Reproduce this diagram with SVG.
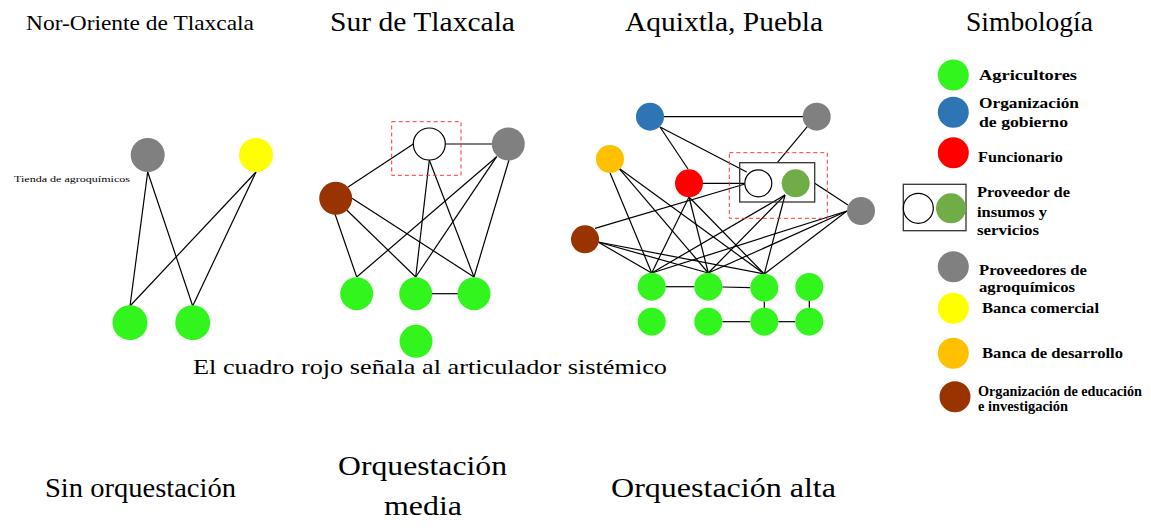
<svg xmlns="http://www.w3.org/2000/svg" width="1151" height="529" viewBox="0 0 1151 529">
<style>
.t{font-family:"Liberation Serif","DejaVu Serif",serif;fill:#000}
.lg{font-family:"Liberation Serif","DejaVu Serif",serif;font-weight:bold;fill:#000;font-size:15px}
.e{stroke:#000;stroke-width:1.2;fill:none}
.g{fill:#33F51E}
.gr{fill:#808080}
.ye{fill:#FFFF00}
.or{fill:#FFC000}
.br{fill:#993300}
.bl{fill:#2E75B6}
.rd{fill:#FF0000}
.ol{fill:#70AD47}
.wh{fill:#fff;stroke:#000;stroke-width:1.2}
.dash{fill:none;stroke:#FF3333;stroke-width:1;stroke-dasharray:4 3}
.box{fill:none;stroke:#333;stroke-width:1.3}
</style>
<rect width="1151" height="529" fill="#fff"/>

<g id="titles">
<text class="t" x="26" y="30" font-size="21" textLength="228" lengthAdjust="spacingAndGlyphs">Nor-Oriente de Tlaxcala</text>
<text class="t" x="330" y="31" font-size="27" textLength="185" lengthAdjust="spacingAndGlyphs">Sur de Tlaxcala</text>
<text class="t" x="625" y="31" font-size="27" textLength="198" lengthAdjust="spacingAndGlyphs">Aquixtla, Puebla</text>
<text class="t" x="966" y="31" font-size="27" textLength="127" lengthAdjust="spacingAndGlyphs">Simbología</text>
<text class="t" x="193" y="374" font-size="22" textLength="474" lengthAdjust="spacingAndGlyphs">El cuadro rojo señala al articulador sistémico</text>
<text class="t" x="45" y="497" font-size="27" textLength="191" lengthAdjust="spacingAndGlyphs">Sin orquestación</text>
<text class="t" x="338" y="475" font-size="27" textLength="169" lengthAdjust="spacingAndGlyphs">Orquestación</text>
<text class="t" x="384" y="515" font-size="27" textLength="78" lengthAdjust="spacingAndGlyphs">media</text>
<text class="t" x="611" y="497" font-size="27" textLength="225" lengthAdjust="spacingAndGlyphs">Orquestación alta</text>
<text class="t" x="14" y="182" font-size="9" fill="#333" textLength="116" lengthAdjust="spacingAndGlyphs">Tienda de agroquímicos</text>
</g>

<g id="connectors">
<!-- Nor-Oriente -->
<line class="e" x1="147.7" y1="172" x2="130" y2="306"/>
<line class="e" x1="147.7" y1="172" x2="192.7" y2="306"/>
<line class="e" x1="256" y1="172" x2="130" y2="306"/>
<line class="e" x1="256" y1="172" x2="192.7" y2="306"/>
<!-- Sur -->
<line class="e" x1="445" y1="144" x2="492" y2="144" stroke="#555"/>
<line class="e" x1="413.7" y1="143.7" x2="347.7" y2="187.3"/>
<line class="e" x1="429.3" y1="160" x2="415.7" y2="277"/>
<line class="e" x1="429.3" y1="160" x2="474" y2="277"/>
<line class="e" x1="496.7" y1="156.7" x2="356.7" y2="277"/>
<line class="e" x1="496.7" y1="156.7" x2="415.7" y2="277"/>
<line class="e" x1="509" y1="160" x2="474" y2="277"/>
<line class="e" x1="335" y1="214" x2="356.7" y2="277"/>
<line class="e" x1="346.7" y1="210" x2="415.7" y2="277"/>
<line class="e" x1="352" y1="198.3" x2="474" y2="277"/>
<line class="e" x1="432" y1="293.7" x2="458" y2="293.7" stroke="#444"/>
<!-- Aquixtla -->
<line class="e" x1="664" y1="116.7" x2="803" y2="116.7"/>
<line class="e" x1="660" y1="127" x2="688" y2="169"/>
<line class="e" x1="660" y1="127" x2="746.7" y2="172"/>
<line class="e" x1="807.3" y1="126.7" x2="777.3" y2="162.7"/>
<line class="e" x1="703" y1="183.3" x2="744.3" y2="183.3" stroke="#444"/>
<line class="e" x1="595" y1="228.3" x2="745" y2="184"/>
<line class="e" x1="814.7" y1="183.3" x2="848" y2="205"/>
<line class="e" x1="610" y1="172.7" x2="651.7" y2="273"/>
<line class="e" x1="619" y1="168.3" x2="708.3" y2="273"/>
<line class="e" x1="619" y1="168.3" x2="764.3" y2="274"/>
<line class="e" x1="689" y1="197" x2="651.7" y2="273"/>
<line class="e" x1="689" y1="197" x2="708.3" y2="273"/>
<line class="e" x1="689" y1="197" x2="764.3" y2="274"/>
<line class="e" x1="598" y1="242" x2="651.7" y2="273"/>
<line class="e" x1="598" y1="242" x2="708.3" y2="273"/>
<line class="e" x1="598" y1="242" x2="764.3" y2="274"/>
<line class="e" x1="785" y1="195" x2="651.7" y2="273"/>
<line class="e" x1="785" y1="195" x2="708.3" y2="273"/>
<line class="e" x1="785" y1="195" x2="764.3" y2="274"/>
<line class="e" x1="847" y1="211" x2="651.7" y2="273"/>
<line class="e" x1="847" y1="211" x2="708.3" y2="273"/>
<line class="e" x1="847" y1="211" x2="764.3" y2="274"/>
<line class="e" x1="665.7" y1="286.7" x2="694.3" y2="286.7"/>
<line class="e" x1="722.3" y1="287" x2="750.3" y2="287.7"/>
<line class="e" x1="764.3" y1="301.7" x2="764.3" y2="307.7"/>
<line class="e" x1="809.3" y1="301" x2="809.3" y2="307.7"/>
<line class="e" x1="722.3" y1="321.7" x2="750.3" y2="321.7"/>
<line class="e" x1="778.3" y1="321.7" x2="795.3" y2="321.7"/>
</g>

<g id="nor-oriente">
<g id="no-tienda"><circle class="gr" cx="147.7" cy="155" r="17"/></g>
<g id="no-banca"><circle class="ye" cx="256" cy="155" r="17"/></g>
<g id="no-agr1"><circle class="g" cx="130" cy="322.7" r="17.5"/></g>
<g id="no-agr2"><circle class="g" cx="192.7" cy="322.7" r="17.5"/></g>
</g>

<g id="sur">
<rect class="dash" x="391.7" y="121.7" width="69.3" height="53.6"/>
<g id="sur-prov"><circle class="wh" cx="429.3" cy="144" r="16"/></g>
<g id="sur-agroq"><circle class="gr" cx="508.3" cy="144" r="16.5"/></g>
<g id="sur-edu"><circle class="br" cx="335.7" cy="198.3" r="16.5"/></g>
<g id="sur-agr1"><circle class="g" cx="356.7" cy="293.7" r="16.5"/></g>
<g id="sur-agr2"><circle class="g" cx="415.7" cy="293.7" r="16.5"/></g>
<g id="sur-agr3"><circle class="g" cx="474" cy="293.7" r="16.5"/></g>
<g id="sur-agr4"><circle class="g" cx="416" cy="341.3" r="16.5"/></g>
</g>

<g id="aquixtla">
<rect class="dash" x="729.3" y="152.7" width="98" height="65.6"/>
<g id="aq-gob"><circle class="bl" cx="650" cy="116.7" r="14"/></g>
<g id="aq-agroq1"><circle class="gr" cx="816.7" cy="116.7" r="14"/></g>
<g id="aq-desarrollo"><circle class="or" cx="610" cy="159" r="14"/></g>
<g id="aq-func"><circle class="rd" cx="689" cy="183.3" r="14"/></g>
<g id="aq-prov">
<rect class="box" x="739.7" y="162.7" width="75" height="39.3"/>
<circle class="wh" cx="758.3" cy="183.3" r="13.5"/>
<circle class="ol" cx="795.7" cy="183.3" r="14"/>
</g>
<g id="aq-agroq2"><circle class="gr" cx="861" cy="211" r="14"/></g>
<g id="aq-edu"><circle class="br" cx="585" cy="239.3" r="14"/></g>
<g id="aq-a1"><circle class="g" cx="651.7" cy="286.7" r="14"/></g>
<g id="aq-a2"><circle class="g" cx="708.3" cy="286.7" r="14"/></g>
<g id="aq-a3"><circle class="g" cx="764.3" cy="287.7" r="14"/></g>
<g id="aq-a4"><circle class="g" cx="809.3" cy="287" r="14"/></g>
<g id="aq-a5"><circle class="g" cx="651.7" cy="321.7" r="14"/></g>
<g id="aq-a6"><circle class="g" cx="708.3" cy="321.7" r="14"/></g>
<g id="aq-a7"><circle class="g" cx="764.3" cy="321.7" r="14"/></g>
<g id="aq-a8"><circle class="g" cx="809.3" cy="321.7" r="14"/></g>
</g>

<g id="legend">
<g id="lg-agr"><circle class="g" cx="953.3" cy="75" r="15.5"/>
<text class="lg" x="979" y="80" textLength="98" lengthAdjust="spacingAndGlyphs">Agricultores</text></g>
<g id="lg-gob"><circle class="bl" cx="953.3" cy="112.3" r="15.5"/>
<text class="lg" x="979" y="108" textLength="100" lengthAdjust="spacingAndGlyphs">Organización</text>
<text class="lg" x="979" y="127" textLength="89" lengthAdjust="spacingAndGlyphs">de gobierno</text></g>
<g id="lg-func"><circle class="rd" cx="953.3" cy="152.7" r="15.5"/>
<text class="lg" x="978" y="162" textLength="85" lengthAdjust="spacingAndGlyphs">Funcionario</text></g>
<g id="lg-prov"><rect class="box" x="903.3" y="184.3" width="62.7" height="46.4"/>
<circle class="wh" cx="918.3" cy="208.3" r="15"/>
<circle class="ol" cx="951" cy="208.3" r="15"/>
<text class="lg" x="977" y="197" textLength="93" lengthAdjust="spacingAndGlyphs">Proveedor de</text>
<text class="lg" x="977" y="217" textLength="70" lengthAdjust="spacingAndGlyphs">insumos y</text>
<text class="lg" x="977" y="235" textLength="62" lengthAdjust="spacingAndGlyphs">servicios</text></g>
<g id="lg-agroq"><circle class="gr" cx="953.3" cy="266.7" r="15.5"/>
<text class="lg" x="979" y="275" textLength="108" lengthAdjust="spacingAndGlyphs">Proveedores de</text>
<text class="lg" x="979" y="292" textLength="96" lengthAdjust="spacingAndGlyphs">agroquímicos</text></g>
<g id="lg-bcom"><circle class="ye" cx="953.3" cy="308.3" r="15.5"/>
<text class="lg" x="982" y="313" textLength="117" lengthAdjust="spacingAndGlyphs">Banca comercial</text></g>
<g id="lg-bdes"><circle class="or" cx="953.3" cy="353.3" r="15.5"/>
<text class="lg" x="982" y="358" textLength="141" lengthAdjust="spacingAndGlyphs">Banca de desarrollo</text></g>
<g id="lg-edu"><circle class="br" cx="955" cy="396.7" r="15.5"/>
<text class="lg" x="978" y="396" font-size="12" textLength="164" lengthAdjust="spacingAndGlyphs">Organización de educación</text>
<text class="lg" x="978" y="411" font-size="12" textLength="90" lengthAdjust="spacingAndGlyphs">e investigación</text></g>
</g>
</svg>
